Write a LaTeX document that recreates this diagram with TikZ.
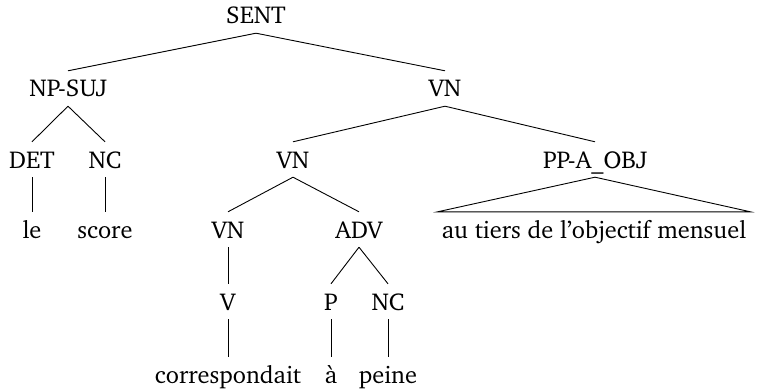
\documentclass[tikz,border=0pt]{standalone}
\usepackage[T1]{fontenc}
\usepackage{charter}
\begin{document}
\begin{tikzpicture}[x=1pt,y=-1pt,
  lab/.style={anchor=base,font=\fontsize{24.4}{29}\selectfont,text height=17pt,text depth=0pt,inner ysep=9pt,inner xsep=0pt},
  edge/.style={line width=0.9pt}]
\useasboundingbox (0,0) rectangle (757,390);
% row 0
\node[lab] (sent) at (256,24) {SENT};
% row 1
\node[lab] (npsuj) at (68,97) {NP-SUJ};
\node[lab] (vna) at (445,97) {VN};
% row 2
\node[lab] (det) at (32,168) {DET};
\node[lab] (nca) at (105,168) {NC};
\node[lab] (vnb) at (293,168) {VN};
\node[lab] (pp) at (595,168) {PP-A\_OBJ};
% row 3
\node[lab] (le) at (32,238) {le};
\node[lab] (score) at (105,238) {score};
\node[lab] (vnc) at (228,238) {VN};
\node[lab] (adv) at (359,238) {ADV};
\node[lab,inner xsep=4pt] (leaf) at (594,238) {au tiers de l'objectif mensuel};
% row 4
\node[lab] (v) at (228,310) {V};
\node[lab] (p) at (331,310) {P};
\node[lab] (ncb) at (388,310) {NC};
% row 5
\node[lab] (corr) at (228,383) {correspondait};
\node[lab] (a) at (331,383) {\`a};
\node[lab] (peine) at (388,383) {peine};
% edges
\draw[edge] (sent.south) -- (npsuj.north);
\draw[edge] (sent.south) -- (vna.north);
\draw[edge] (npsuj.south) -- (det.north);
\draw[edge] (npsuj.south) -- (nca.north);
\draw[edge] (det.south) -- (le.north);
\draw[edge] (nca.south) -- (score.north);
\draw[edge] (vna.south) -- (vnb.north);
\draw[edge] (vna.south) -- (pp.north);
\draw[edge] (vnb.south) -- (vnc.north);
\draw[edge] (vnb.south) -- (adv.north);
\draw[edge] (vnc.south) -- (v.north);
\draw[edge] (v.south) -- (corr.north);
\draw[edge] (adv.south) -- (p.north);
\draw[edge] (adv.south) -- (ncb.north);
\draw[edge] (p.south) -- (a.north);
\draw[edge] (ncb.south) -- (peine.north);
\draw[edge] (leaf.north west) -- (pp.south) -- (leaf.north east) -- cycle;
\end{tikzpicture}
\end{document}
